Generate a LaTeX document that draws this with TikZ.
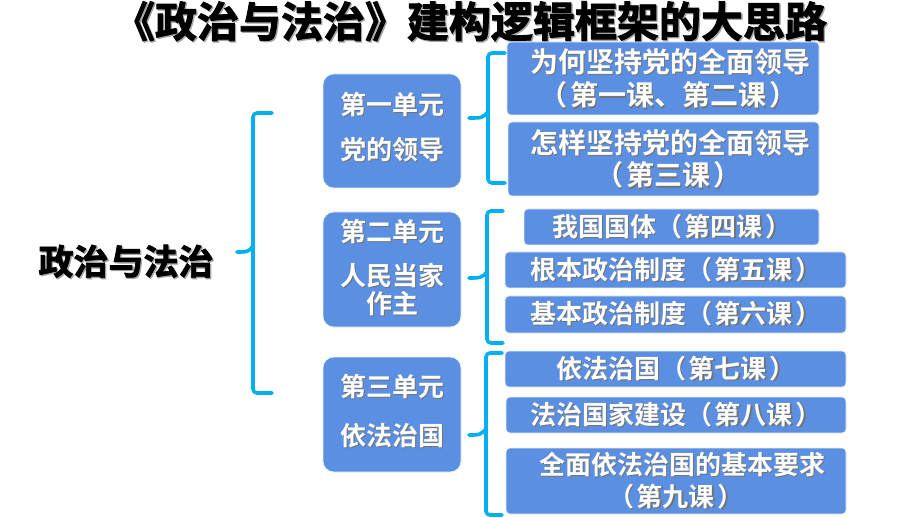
\documentclass[tikz,border=0pt]{standalone}
\usepackage{fontspec}
\newfontfamily\cjk{Noto Sans CJK SC}[BoldFont={Noto Sans CJK SC Bold}]
\newfontfamily\cjkm{Noto Sans CJK SC Bold}
\newfontfamily\cjkh{Noto Sans CJK SC Bold}[FakeBold=2.2]
\definecolor{bracec}{RGB}{0,176,240}
\definecolor{boxc}{RGB}{90,143,226}
\newcommand{\shadowed}[2][black!55]{\makebox[0pt][l]{\kern1.3pt\raisebox{-1.3pt}{\color{#1}#2}}#2}
\newcommand{\lp}{（\hspace{3pt}}
\newcommand{\rp}{\hspace{3pt}）}
\begin{document}
\begin{tikzpicture}[x=1pt,y=-1pt,
  unitbox/.style={fill=boxc,draw=white!85!boxc,line width=0.6pt,rounded corners=11pt},
  lessbox/.style={fill=boxc,draw=white!85!boxc,line width=0.6pt,rounded corners=4pt},
  wtxt/.style={font=\cjkm\fontsize{#1}{#1}\selectfont,text=white,inner sep=0pt,anchor=center},
  wtxt/.default=26,
  brc/.style={draw=bracec,line width=3.6pt,rounded corners=4pt,line cap=round},
  tipc/.style={draw=bracec,line width=3.6pt,line cap=round}]
\useasboundingbox (0,0) rectangle (920,518);
\fill[white] (0,0) rectangle (920,518);
% title
\node[font=\cjkh\fontsize{42}{42}\selectfont,inner sep=0pt] (title) at (470,22) {\shadowed[black!35]{《政治与法治》建构逻辑框架的大思路}};
% left root
\node[font=\cjkh\fontsize{35}{35}\selectfont,inner sep=0pt] (root) at (126,262) {\shadowed[black!35]{政治与法治}};
% unit boxes
\path[unitbox] (323,74) rectangle (461,188);
\path[unitbox] (323,212) rectangle (461,327);
\path[unitbox] (323,357) rectangle (461,472);
\coordinate (u1) at (461,118);
\coordinate (u2) at (461,278);
\coordinate (u3) at (461,435);
\node[wtxt] (u1a) at (392,105) {\shadowed{第一单元}};
\node[wtxt] (u1b) at (392,150) {\shadowed{党的领导}};
\node[wtxt] (u2a) at (392,232) {\shadowed{第二单元}};
\node[wtxt] (u2b) at (392,276) {\shadowed{人民当家}};
\node[wtxt] (u2c) at (392,304) {\shadowed{作主}};
\node[wtxt] (u3a) at (392,387) {\shadowed{第三单元}};
\node[wtxt] (u3b) at (392,436) {\shadowed{依法治国}};
% lesson boxes
\path[lessbox] (507,42) rectangle (819,115);
\node[wtxt=28] (l1a) at (670,62) {\shadowed{为何坚持党的全面领导}};
\node[wtxt=28] (l1b) at (668,96) {\shadowed{\lp 第一课、第二课\rp}};
\path[lessbox] (508,122) rectangle (819,196);
\node[wtxt=28] (l2a) at (670,143) {\shadowed{怎样坚持党的全面领导}};
\node[wtxt=28] (l2b) at (668,176) {\shadowed{\lp 第三课\rp}};
\path[lessbox] (524,209) rectangle (819,245);
\node[wtxt] (l3) at (672,227) {\shadowed{我国国体\lp 第四课\rp}};
\path[lessbox] (505,252) rectangle (846,288);
\node[wtxt] (l4) at (676,270) {\shadowed{根本政治制度\lp 第五课\rp}};
\path[lessbox] (505,296) rectangle (846,333);
\node[wtxt] (l5) at (676,314) {\shadowed{基本政治制度\lp 第六课\rp}};
\path[lessbox] (505,351) rectangle (846,387);
\node[wtxt] (l6) at (676,369) {\shadowed{依法治国\lp 第七课\rp}};
\path[lessbox] (506,397) rectangle (846,433);
\node[wtxt] (l7) at (676,415) {\shadowed{法治国家建设\lp 第八课\rp}};
\path[lessbox] (506,448) rectangle (846,514);
\node[wtxt] (l8a) at (682,465) {\shadowed{全面依法治国的基本要求}};
\node[wtxt] (l8b) at (676,497) {\shadowed{\lp 第九课\rp}};
% braces
\draw[brc] (272,113) -- (253,113) -- (253,393) -- (272,393);
\draw[tipc] (237,252) .. controls (248,252) .. (253,246);
\draw[brc] (505,53) -- (488,53) -- (488,183) -- (505,183);
\draw[tipc] (u1) ++(8,0) .. controls (482,118) .. (488,112);
\draw[brc] (503,211) -- (487,211) -- (487,343) -- (503,343);
\draw[tipc] (u2) ++(8,0) .. controls (481,278) .. (487,272);
\draw[brc] (502,353) -- (486,353) -- (486,515) -- (502,515);
\draw[tipc] (u3) ++(8,0) .. controls (480,435) .. (486,429);
\end{tikzpicture}
\end{document}
